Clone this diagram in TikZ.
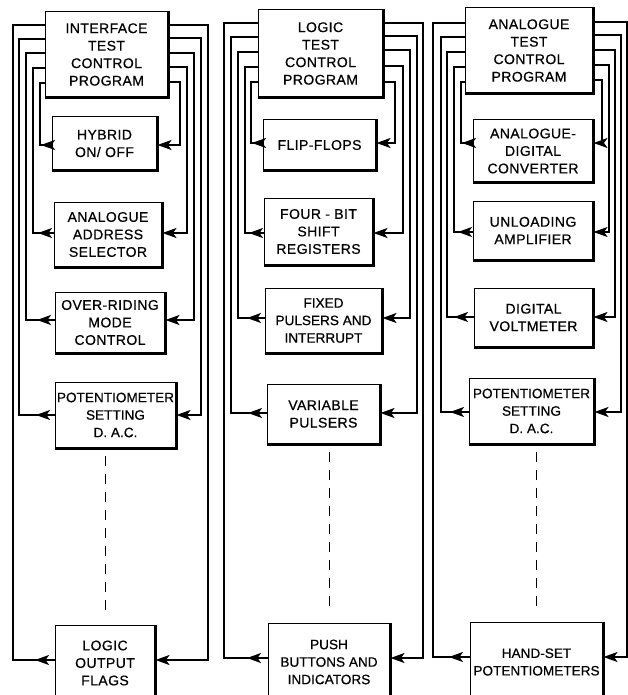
\documentclass[tikz,border=0pt]{standalone}
\usepackage{fontspec}
\setmainfont{Liberation Sans}
\newfontfamily\letterfont[FakeBold=0.6, LetterSpace=3]{Liberation Sans}
\newfontfamily\tightfont[FakeBold=0.6]{Liberation Sans}
\usetikzlibrary{arrows.meta}

\begin{document}
\begin{tikzpicture}[
    x=1pt, y=-1pt,
    unit/.style={draw, line width=1pt, align=center, inner xsep=0.5pt, inner ysep=1pt, font=\letterfont\fontsize{14}{17.5}\selectfont},
    narrow/.style={font=\tightfont\fontsize{13.6}{17.5}\selectfont},
    rim/.style={line width=2.4pt},
    wire/.style={line width=1.8pt},
    into/.style={wire, -{Stealth[length=14pt, width=10pt, inset=3.5pt]}},
    gap/.style={line width=1pt, dash pattern=on 10pt off 8pt, shorten <=7pt, shorten >=10pt}
]
\useasboundingbox (0,0) rectangle (628,695);

% interface column
\node[unit, minimum width=123pt, minimum height=85pt] (iface) at (106.5,54.5) {INTERFACE\\TEST\\CONTROL\\PROGRAM};
\node[unit, minimum width=105pt, minimum height=53pt] (hyb) at (104.5,143.5) {HYBRID\\ON/ OFF};
\node[unit, minimum width=108pt, minimum height=65pt] (addr) at (108,234.5) {ANALOGUE\\ADDRESS\\SELECTOR};
\node[unit, minimum width=110pt, minimum height=61pt] (over) at (110,322.5) {OVER-RIDING\\MODE\\CONTROL};
\node[unit, narrow, minimum width=121pt, minimum height=66pt] (pot1) at (115.5,415) {POTENTIOMETER\\SETTING\\D. A.C.};
\node[unit, minimum width=100pt, minimum height=76pt] (flags) at (105,663) {LOGIC\\OUTPUT\\FLAGS};

% logic column
\node[unit, minimum width=125pt, minimum height=87pt] (ltop) at (320.5,53.5) {LOGIC\\TEST\\CONTROL\\PROGRAM};
\node[unit, minimum width=113pt, minimum height=50pt] (flip) at (319.5,145) {FLIP-FLOPS};
\node[unit, minimum width=109pt, minimum height=67pt] (shift) at (318.5,231.5) {FOUR - BIT\\SHIFT\\REGISTERS};
\node[unit, narrow, minimum width=117pt, minimum height=65pt] (fixed) at (323.5,320.5) {FIXED\\PULSERS AND\\INTERRUPT};
\node[unit, minimum width=113pt, minimum height=60pt] (varp) at (323.5,414) {VARIABLE\\PULSERS};
\node[unit, narrow, minimum width=122pt, minimum height=78pt] (push) at (329,662) {PUSH\\BUTTONS AND\\INDICATORS};

% analogue column
\node[unit, minimum width=128pt, minimum height=85pt] (atop) at (529,50.5) {ANALOGUE\\TEST\\CONTROL\\PROGRAM};
\node[unit, minimum width=120pt, minimum height=62pt] (adc) at (533,151) {ANALOGUE-\\DIGITAL\\CONVERTER};
\node[unit, minimum width=120pt, minimum height=59pt] (unload) at (533,230.5) {UNLOADING\\AMPLIFIER};
\node[unit, minimum width=119pt, minimum height=59pt] (dvm) at (533.5,317.5) {DIGITAL\\VOLTMETER};
\node[unit, narrow, minimum width=125pt, minimum height=66pt] (pot3) at (531.5,411) {POTENTIOMETER\\SETTING\\D. A.C.};
\node[unit, narrow, minimum width=133pt, minimum height=80pt] (hand) at (536.5,662) {HAND-SET\\POTENTIOMETERS};

\foreach \b in {iface,hyb,addr,over,pot1,flags,ltop,flip,shift,fixed,varp,push,atop,adc,unload,dvm,pot3,hand}
    \draw[rim] (\b.north east) -- (\b.south east) -- (\b.south west);

% returns on the left, feeds on the right
\foreach \b/\x/\y/\a/\t in {flags/13/25/660/35, pot1/19/39/415/36, over/26/53/320/37, addr/33/68/233/38, hyb/40/83/145/41} {
    \draw[wire] (\b.west |- 0,\a) -| (\x,\y) -- (iface.west |- 0,\y);
    \draw[into] (\b.west |- 0,\a) -- (\t,\a);
}
\foreach \b/\x/\y/\a in {flags/208/25/660, pot1/201/38/415, over/194/53/320, addr/187/67/233, hyb/180/82/145}
    \draw[into] (iface.east |- 0,\y) -| (\x,\a) -- (\b.east |- 0,\a);

\foreach \b/\x/\y/\a/\t in {push/224/23/658/247, varp/231/37/413/248, fixed/238/52/318/247, shift/245/67/233/249, flip/251/82/143/252} {
    \draw[wire] (\b.west |- 0,\a) -| (\x,\y) -- (ltop.west |- 0,\y);
    \draw[into] (\b.west |- 0,\a) -- (\t,\a);
}
\foreach \b/\x/\y/\a in {push/423/23/658, varp/417/36/413, fixed/410/50/318, shift/403/66/233, flip/395/82/143}
    \draw[into] (ltop.east |- 0,\y) -| (\x,\a) -- (\b.east |- 0,\a);

\foreach \b/\x/\y/\a/\t in {hand/433/23/657/449, pot3/441/37/412/450, dvm/447/52/317/454, unload/454/67/232/458, adc/461/82/143/462} {
    \draw[wire] (\b.west |- 0,\a) -| (\x,\y) -- (atop.west |- 0,\y);
    \draw[into] (\b.west |- 0,\a) -- (\t,\a);
}
\foreach \b/\x/\y/\a in {hand/627/22/657, pot3/621/35/412, dvm/615/50/317, unload/609/65/232, adc/602/80/143}
    \draw[into] (atop.east |- 0,\y) -| (\x,\a) -- (\b.east |- 0,\a);

\draw[gap] (pot1.south -| flags.north) -- (flags.north);
\draw[gap] (varp.south -| push.north) -- (push.north);
\draw[gap] (pot3.south -| hand.north) -- (hand.north);
\end{tikzpicture}
\end{document}
